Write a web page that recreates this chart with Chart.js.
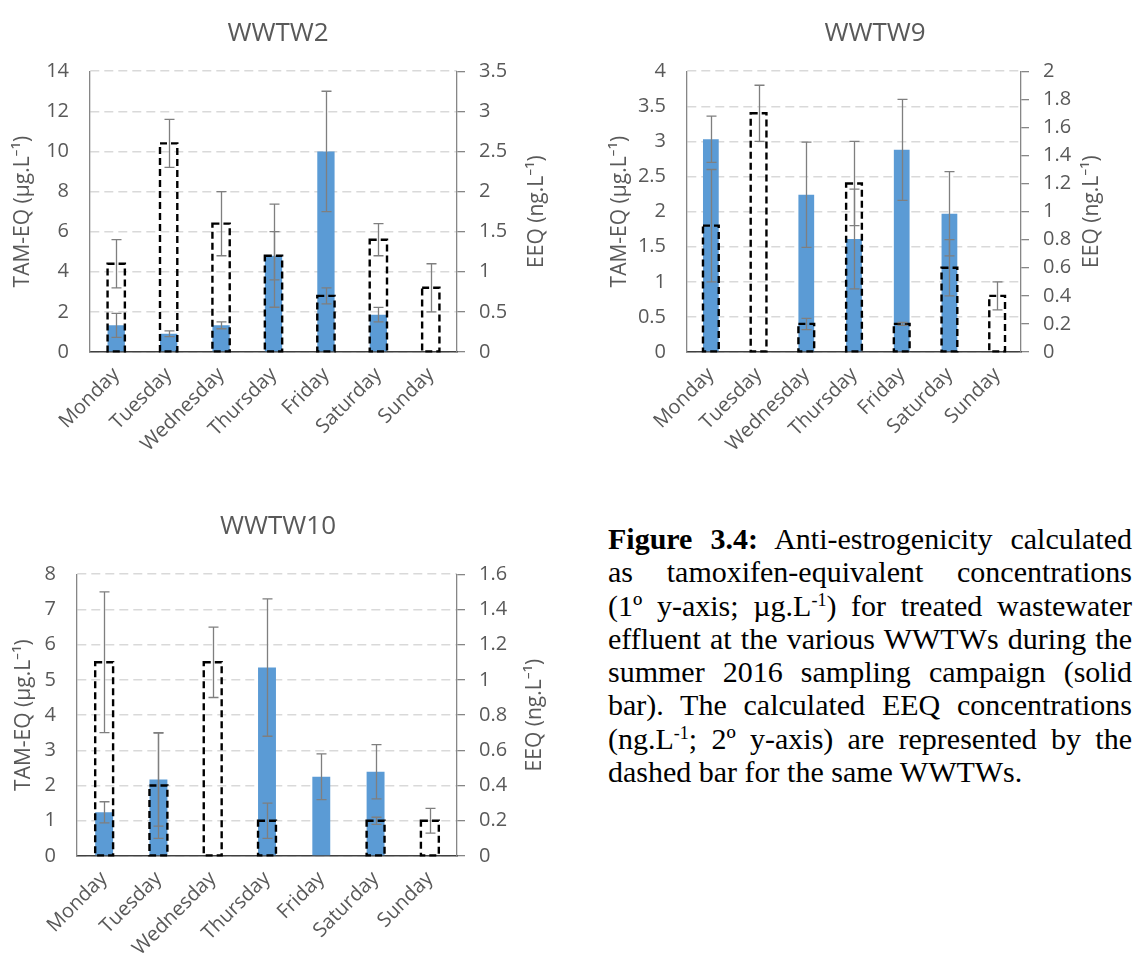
<!DOCTYPE html>
<html>
<head>
<script src="https://cdn.jsdelivr.net/npm/chart.js"></script>
<style>
  body { margin: 0; background: #fff; width: 1144px; height: 965px; position: relative; overflow: hidden; }
  canvas { position: absolute; }
  #wwtw2 { left: 0; top: 0; }
  #wwtw9 { left: 606px; top: 0; }
  #wwtw10 { left: 0; top: 500px; }
  .caption {
    position: absolute; left: 608px; top: 522px; width: 524px;
    font-family: "Liberation Serif", "Times New Roman", serif;
    font-size: 30px; line-height: 33.3px; color: #000;
  }
  .caption div { text-align: justify; text-align-last: justify; }
  .caption div.last { text-align-last: left; }
  .caption sup { font-size: 0.6em; line-height: 0; vertical-align: 0.55em; }
</style>
</head>
<body>
<canvas id="wwtw2" width="556" height="470"></canvas>
<canvas id="wwtw9" width="538" height="470"></canvas>
<canvas id="wwtw10" width="556" height="465"></canvas>

<div class="caption">
  <div><b>Figure 3.4:</b> Anti-estrogenicity calculated</div>
  <div>as tamoxifen-equivalent concentrations</div>
  <div>(1º y-axis; µg.L<sup>-1</sup>) for treated wastewater</div>
  <div>effluent at the various WWTWs during the</div>
  <div>summer 2016 sampling campaign (solid</div>
  <div>bar). The calculated EEQ concentrations</div>
  <div>(ng.L<sup>-1</sup>; 2º y-axis) are represented by the</div>
  <div class="last">dashed bar for the same WWTWs.</div>
</div>

<script>
const days = ['Monday', 'Tuesday', 'Wednesday', 'Thursday', 'Friday', 'Saturday', 'Sunday'];

// WWTW2
const tam2 = [1.33, 0.91, 1.33, 4.8, 10.0, 1.86, 0];
const tam2Err = [0.6, 0.14, 0.17, 2.57, 3.0, 0.36, 0];
const eeq2 = [1.1, 2.6, 1.6, 1.2, 0.7, 1.4, 0.8];
const eeq2Err = [0.3, 0.3, 0.4, 0.3, 0.1, 0.2, 0.3];

// WWTW9
const tam9 = [3.03, 0, 2.24, 1.61, 2.88, 1.97, 0];
const tam9Err = [0.33, 0, 0.75, 0.71, 0.72, 0.6, 0];
const eeq9 = [0.9, 1.7, 0.2, 1.2, 0.2, 0.6, 0.4];
const eeq9Err = [0.4, 0.2, 0.04, 0.3, 0.01, 0.2, 0.1];

// WWTW10
const tam10 = [1.24, 2.17, 0, 5.35, 2.25, 2.39, 0];
const tam10Err = [0.3, 1.32, 0, 1.95, 0.65, 0.77, 0];
const eeq10 = [1.1, 0.4, 1.1, 0.2, 0, 0.2, 0.2];
const eeq10Err = [0.4, 0.3, 0.2, 0.1, 0, 0.02, 0.07];

const FONT = '"Open Sans", "Noto Sans", sans-serif';
const TEXT = '#595959';
const AXIS = '#868686';

const fmt = v => String(Number(v.toFixed(2)));

// dashed outline for the EEQ bars, error bars for both series,
// and the right axis title (reads bottom to top)
const overlayPlugin = {
  id: 'overlay',
  afterDatasetsDraw(chart) {
    const ctx = chart.ctx;
    const eeq = chart.data.datasets[1];
    ctx.save();
    ctx.strokeStyle = '#000';
    ctx.lineWidth = 2.4;
    ctx.setLineDash([7, 4]);
    chart.getDatasetMeta(1).data.forEach((bar, i) => {
      if (!eeq.data[i]) return;
      const p = bar.getProps(['x', 'y', 'base', 'width'], true);
      ctx.strokeRect(p.x - p.width / 2, p.y, p.width, p.base - p.y);
    });
    ctx.setLineDash([]);
    ctx.strokeStyle = '#7f7f7f';
    ctx.lineWidth = 1.3;
    chart.data.datasets.forEach((ds, d) => {
      const meta = chart.getDatasetMeta(d);
      const scale = chart.scales[ds.yAxisID];
      ds.data.forEach((v, i) => {
        const e = ds.errors[i];
        if (!e) return;
        const x = Math.round(meta.data[i].x) + 0.5;
        const top = scale.getPixelForValue(v + e);
        const bot = scale.getPixelForValue(Math.max(v - e, 0));
        ctx.beginPath();
        ctx.moveTo(x, top); ctx.lineTo(x, bot);
        ctx.moveTo(x - 5, top); ctx.lineTo(x + 5, top);
        ctx.moveTo(x - 5, bot); ctx.lineTo(x + 5, bot);
        ctx.stroke();
      });
    });
    ctx.restore();
  },
  afterDraw(chart, args, opts) {
    const ctx = chart.ctx;
    const area = chart.chartArea;
    ctx.save();
    ctx.translate(area.right + opts.offset, (area.top + area.bottom) / 2);
    ctx.rotate(-Math.PI / 2);
    ctx.textAlign = 'center';
    ctx.textBaseline = 'middle';
    ctx.fillStyle = TEXT;
    ctx.font = '21px ' + FONT;
    ctx.fillText(opts.text, 0, 0);
    ctx.restore();
  }
};

function drawPanel(id, p) {
  return new Chart(document.getElementById(id), {
    type: 'bar',
    data: {
      labels: days,
      datasets: [{
        label: 'TAM-EQ',
        data: p.tam,
        errors: p.tamErr,
        yAxisID: 'y',
        backgroundColor: '#5b9bd5',
        grouped: false,
        categoryPercentage: 1,
        barPercentage: 0.33
      }, {
        label: 'EEQ',
        data: p.eeq,
        errors: p.eeqErr,
        yAxisID: 'y1',
        backgroundColor: 'rgba(0,0,0,0)',
        grouped: false,
        categoryPercentage: 1,
        barPercentage: 0.33
      }]
    },
    options: {
      responsive: false,
      animation: false,
      layout: { padding: 0 },
      plugins: {
        legend: { display: false },
        tooltip: { enabled: false },
        title: {
          display: true,
          text: p.title,
          color: TEXT,
          font: { family: FONT, size: 26, weight: 'normal' },
          padding: p.titlePad
        },
        overlay: { text: 'EEQ (ng.L⁻¹)', offset: p.rightTitleX }
      },
      scales: {
        x: {
          grid: { display: false },
          border: { color: '#404040', width: 1.5 },
          ticks: {
            color: TEXT,
            font: { family: FONT, size: 20 },
            minRotation: 45,
            maxRotation: 45,
            autoSkip: false,
            padding: 3
          },
          afterFit: s => { s.height = p.xHeight; }
        },
        y: {
          position: 'left',
          min: 0,
          max: p.yMax,
          ticks: { stepSize: p.yStep, color: TEXT, font: { family: FONT, size: 20 }, padding: 21, callback: fmt },
          grid: { color: '#d9d9d9', lineWidth: 1.5, drawTicks: false },
          border: { color: AXIS, width: 1.3, dash: [9, 5] },
          title: {
            display: true,
            text: 'TAM-EQ (µg.L⁻¹)',
            color: TEXT,
            font: { family: FONT, size: 21 },
            padding: { top: p.leftTitlePad, bottom: 0 }
          },
          afterFit: s => { s.width = p.leftWidth; }
        },
        y1: {
          position: 'right',
          min: 0,
          max: p.y1Max,
          ticks: { stepSize: p.y1Step, color: TEXT, font: { family: FONT, size: 20 }, padding: 14, callback: fmt },
          grid: { drawOnChartArea: false, color: AXIS, lineWidth: 1.3, tickLength: 8 },
          border: { color: AXIS, width: 1.3 },
          afterFit: s => { s.width = p.rightWidth; }
        }
      }
    },
    plugins: [overlayPlugin]
  });
}

drawPanel('wwtw2', {
  title: 'WWTW2', tam: tam2, tamErr: tam2Err, eeq: eeq2, eeqErr: eeq2Err,
  yMax: 14, yStep: 2, y1Max: 3.5, y1Step: 0.5,
  titlePad: { top: 18, bottom: 22 }, leftWidth: 90, rightWidth: 99, xHeight: 118,
  leftTitlePad: 10, rightTitleX: 80
});

drawPanel('wwtw9', {
  title: 'WWTW9', tam: tam9, tamErr: tam9Err, eeq: eeq9, eeqErr: eeq9Err,
  yMax: 4, yStep: 0.5, y1Max: 2, y1Step: 0.2,
  titlePad: { top: 18, bottom: 22 }, leftWidth: 81, rightWidth: 123, xHeight: 118,
  leftTitlePad: 1, rightTitleX: 71
});

drawPanel('wwtw10', {
  title: 'WWTW10', tam: tam10, tamErr: tam10Err, eeq: eeq10, eeqErr: eeq10Err,
  yMax: 8, yStep: 1, y1Max: 1.6, y1Step: 0.2,
  titlePad: { top: 11, bottom: 32 }, leftWidth: 77, rightWidth: 99, xHeight: 109,
  leftTitlePad: 11, rightTitleX: 78
});
</script>
</body>
</html>
